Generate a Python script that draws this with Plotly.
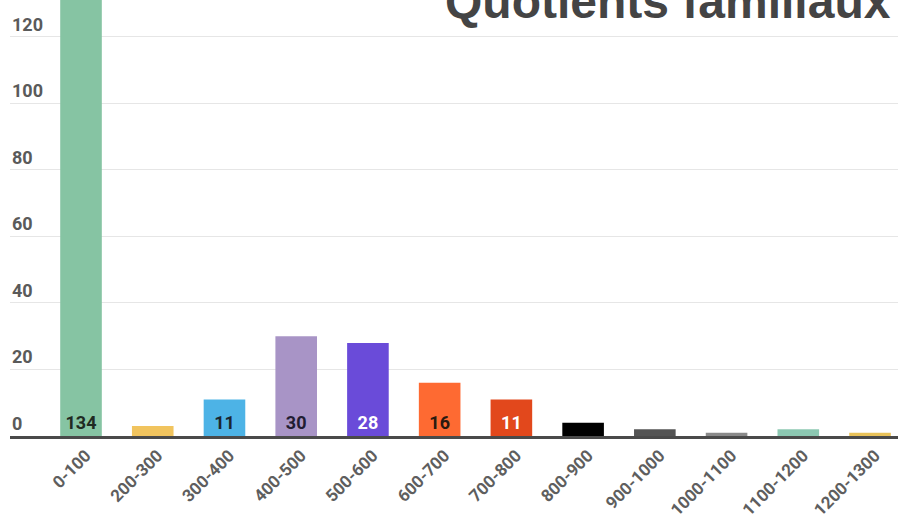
import plotly.graph_objects as go

categories = ["0-100", "200-300", "300-400", "400-500", "500-600", "600-700",
              "700-800", "800-900", "900-1000", "1000-1100", "1100-1200", "1200-1300"]
values = [134, 3, 11, 30, 28, 16, 11, 4, 2, 1, 2, 1]
bar_labels = ["134", "", "11", "30", "28", "16", "11", "", "", "", "", ""]
bar_colors = ["#86c4a3", "#f1c45e", "#4db3e6", "#a894c6", "#6a4bd9", "#fe6a32",
              "#e2481c", "#000000", "#545454", "#8a8a8a", "#8cc8b2", "#e9c259"]
label_colors = ["#1f2a22", "#222", "#1b2630", "#221d33", "#ffffff", "#2a1a10",
                "#ffffff", "#fff", "#fff", "#fff", "#fff", "#fff"]
title_text = "Quotients familiaux"
y_ticks = [0, 20, 40, 60, 80, 100, 120]

fig = go.Figure(go.Bar(
    x=categories, y=values, marker=dict(color=bar_colors, line=dict(width=0)),
    width=0.58, text=bar_labels, textposition="inside", insidetextanchor="start",
    textfont=dict(family="Roboto", size=18, color=label_colors, weight="bold"),
    textangle=0, cliponaxis=True, hoverinfo="skip",
))

fig.update_layout(
    width=898, height=524, margin=dict(l=10, r=0, t=0, b=88, autoexpand=False),
    paper_bgcolor="white", plot_bgcolor="white", showlegend=False,
    xaxis=dict(range=[-0.99, 11.39], tickangle=-45, showgrid=False, automargin=False,
               showline=True, linecolor="#4a4a4a", linewidth=3,
               tickfont=dict(family="Roboto", size=17, color="#5e5e5e", weight="bold"),
               ticks="", type="category", ticklabelstandoff=0, ticklabelshift=5),
    yaxis=dict(range=[0, 131.1], tickvals=y_ticks, ticklabelposition="inside top",
               automargin=False,
               gridcolor="#e6e6e6", gridwidth=1, zeroline=False, showline=False,
               tickfont=dict(family="Roboto", size=18, color="#5a5a5a", weight="bold"),
               ticks="", ticklabelstandoff=-1),
    annotations=[dict(text="<b>" + title_text + "</b>", xref="paper", yref="paper",
                      x=1.0, y=1.0, xanchor="right", yanchor="middle",
                      showarrow=False, xshift=-5, yshift=-1,
                      font=dict(family="Liberation Sans", size=48, color="#444"))],
)

fig.write_html("out.html", config={"displayModeBar": False},
               post_script="document.body.style.margin='0';")
